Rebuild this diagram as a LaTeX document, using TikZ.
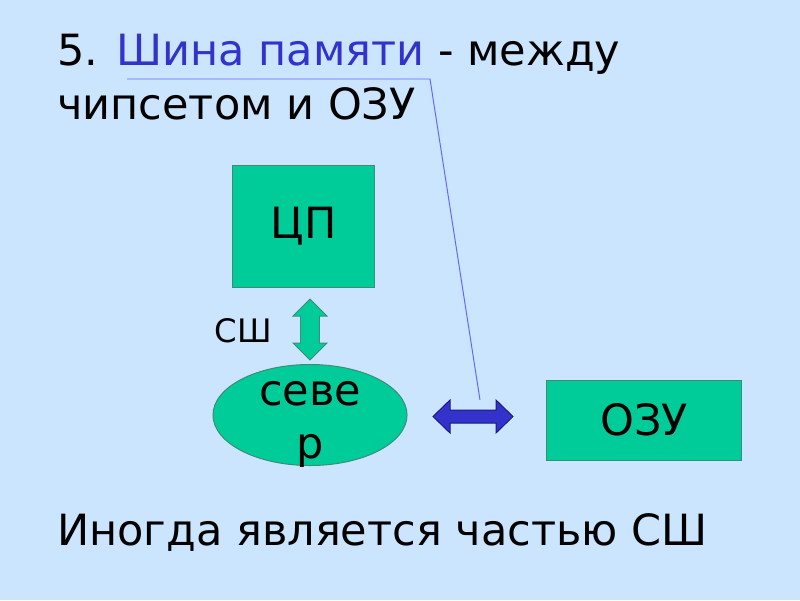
\documentclass[tikz,border=0pt]{standalone}
\usepackage{fontspec}
\setmainfont{DejaVu Sans}
\usetikzlibrary{shapes.geometric}
\definecolor{slidebg}{HTML}{CCE5FF}
\definecolor{boxgreen}{HTML}{00CC99}
\definecolor{boxline}{HTML}{3C8C78}
\definecolor{busblue}{HTML}{3333CC}
\definecolor{busline}{HTML}{1A1A80}
\definecolor{leadblue}{HTML}{6666FF}
\tikzset{
  slidetext/.style={anchor=base west, inner sep=0pt, font=\fontsize{30.6}{36}\selectfont},
  unittext/.style={inner sep=0pt, font=\fontsize{30.6}{37.7}\selectfont},
  unit/.style={unittext, draw=boxline, fill=boxgreen, line width=0.7pt},
  blockarrow/.style={line width=0.7pt, line join=miter},
}
\begin{document}
\begin{tikzpicture}[x=0.025cm, y=-0.025cm]
  \useasboundingbox[fill=slidebg] (0,0) rectangle (800,600);
  % title
  \node[slidetext] (title) at (57,65) {5. \textcolor{busblue}{Шина памяти} - между};
  \node[slidetext] (title2) at (57,119) {чипсетом и ОЗУ};
  \node[slidetext] (note) at (57,545) {Иногда является частью СШ};
  % units
  \node[unit, rectangle, minimum width=3.525cm, minimum height=3.025cm] (cpu) at (303.5,226.5) {ЦП};
  \node[unit, ellipse, minimum width=4.85cm, minimum height=2.525cm] (north) at (310,415) {};
  \node[unittext] (northtext) at ([yshift=-4.6pt]north.center) {\begin{tabular}{@{}c@{}}севе\\р\end{tabular}};
  \node[unit, rectangle, minimum width=4.85cm, minimum height=2cm] (ram) at (644,420) {ОЗУ};
  \node[anchor=base east, inner sep=0pt, font=\fontsize{23}{28}\selectfont] (fsb) at (272,342) {СШ};
  % buses
  \draw[blockarrow, draw=boxline, fill=boxgreen]
    (310,299) -- (327,316) -- (319.5,316) -- (319.5,343) -- (327,343) -- (310,360)
    -- (293,343) -- (300.5,343) -- (300.5,316) -- (293,316) -- cycle;
  \draw[blockarrow, draw=busline, fill=busblue]
    (433,416.5) -- (450,400) -- (450,410) -- (496,410) -- (496,400) -- (513,416.5)
    -- (496,433) -- (496,423) -- (450,423) -- (450,433) -- cycle;
  % pointer from title to memory bus
  \coordinate (lead) at (127,79);
  \coordinate (bend) at (430,79);
  \coordinate (membus) at (480,400);
  \draw[leadblue, line width=0.7pt] (lead) -- (bend) -- (membus);
\end{tikzpicture}
\end{document}
